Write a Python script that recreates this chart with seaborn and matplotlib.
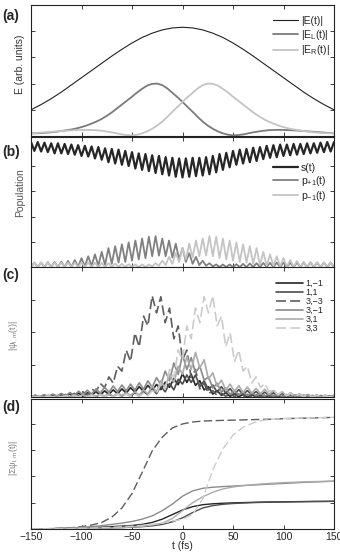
import numpy as np
import matplotlib
matplotlib.use("Agg")
import matplotlib.pyplot as plt
import seaborn as sns

# ---------------- data ----------------
t_coarse = np.arange(-150, 151, 10)          # panels (a) and (d)
t_fine = np.arange(-150, 151, 5)             # E_L / E_R in panel (a)
t_b = np.linspace(-150, 150, 91)             # panel (b), half-period samples
t_c = np.linspace(-150, 150, 71)             # panel (c), half-period samples

E_tot = [0.20, 0.24, 0.285, 0.335, 0.39, 0.445, 0.50, 0.555, 0.61, 0.662, 0.71,
         0.752, 0.785, 0.81, 0.825, 0.83, 0.825, 0.81, 0.785, 0.752, 0.71,
         0.662, 0.61, 0.555, 0.50, 0.445, 0.39, 0.335, 0.285, 0.24, 0.20]
E_L = [0.02, 0.021, 0.022, 0.025, 0.028, 0.033, 0.038, 0.044, 0.05, 0.058,
       0.068, 0.08, 0.095, 0.111, 0.13, 0.154, 0.18, 0.21, 0.24, 0.27,
       0.30, 0.332, 0.36, 0.385, 0.398, 0.40, 0.388, 0.363, 0.33, 0.296,
       0.26, 0.222, 0.185, 0.146, 0.11, 0.08, 0.055, 0.035, 0.02, 0.01,
       0.005, 0.007, 0.012, 0.02, 0.028, 0.034, 0.04, 0.044, 0.046, 0.047,
       0.046, 0.045, 0.043, 0.041, 0.038, 0.035, 0.032, 0.029, 0.026, 0.023,
       0.02]
E_R = [0.02, 0.023, 0.026, 0.029, 0.032, 0.035, 0.038, 0.041, 0.043, 0.045,
       0.046, 0.047, 0.046, 0.044, 0.04, 0.034, 0.028, 0.02, 0.012, 0.007,
       0.005, 0.01, 0.02, 0.035, 0.055, 0.08, 0.11, 0.146, 0.185, 0.222,
       0.26, 0.296, 0.33, 0.363, 0.388, 0.40, 0.398, 0.385, 0.36, 0.332,
       0.30, 0.27, 0.24, 0.21, 0.18, 0.154, 0.13, 0.111, 0.095, 0.08,
       0.068, 0.058, 0.05, 0.044, 0.038, 0.033, 0.028, 0.025, 0.022, 0.021,
       0.02]

s_pop = [0.99, 0.92, 0.99, 0.915, 0.985, 0.91, 0.98, 0.90, 0.98, 0.90,
         0.975, 0.895, 0.97, 0.89, 0.965, 0.88, 0.96, 0.875, 0.955, 0.86,
         0.95, 0.85, 0.94, 0.83, 0.935, 0.82, 0.93, 0.81, 0.92, 0.80,
         0.91, 0.78, 0.90, 0.77, 0.895, 0.76, 0.885, 0.745, 0.88, 0.735,
         0.87, 0.725, 0.865, 0.715, 0.86, 0.71, 0.86, 0.715, 0.865, 0.72,
         0.865, 0.725, 0.87, 0.735, 0.88, 0.75, 0.895, 0.77, 0.905, 0.79,
         0.92, 0.81, 0.93, 0.82, 0.935, 0.83, 0.945, 0.84, 0.95, 0.855,
         0.96, 0.865, 0.965, 0.87, 0.97, 0.88, 0.97, 0.885, 0.975, 0.89,
         0.975, 0.895, 0.98, 0.90, 0.98, 0.905, 0.985, 0.91, 0.99, 0.915,
         0.99]
p_plus = [0.0, 0.035, 0.0, 0.035, 0.0, 0.038, 0.0, 0.04, 0.0, 0.042,
          0.0, 0.048, 0.002, 0.055, 0.003, 0.07, 0.005, 0.085, 0.008, 0.10,
          0.01, 0.12, 0.015, 0.15, 0.025, 0.165, 0.035, 0.18, 0.04, 0.195,
          0.05, 0.21, 0.06, 0.225, 0.07, 0.24, 0.085, 0.245, 0.09, 0.225,
          0.085, 0.21, 0.075, 0.185, 0.06, 0.15, 0.04, 0.11, 0.025, 0.08,
          0.015, 0.05, 0.01, 0.03, 0.005, 0.02, 0.0, 0.02, 0.0, 0.02,
          0.0, 0.022, 0.0, 0.025, 0.0, 0.028, 0.0, 0.03, 0.0, 0.032,
          0.0, 0.033, 0.0, 0.035, 0.0, 0.035, 0.0, 0.035, 0.0, 0.035,
          0.0, 0.035, 0.0, 0.035, 0.0, 0.035, 0.0, 0.035, 0.0, 0.035,
          0.0]
p_minus = [0.0, 0.035, 0.0, 0.035, 0.0, 0.035, 0.0, 0.035, 0.0, 0.035,
           0.0, 0.035, 0.0, 0.035, 0.0, 0.035, 0.0, 0.035, 0.0, 0.033,
           0.0, 0.032, 0.0, 0.03, 0.0, 0.028, 0.0, 0.025, 0.0, 0.022,
           0.0, 0.02, 0.0, 0.02, 0.0, 0.02, 0.005, 0.03, 0.01, 0.05,
           0.015, 0.08, 0.025, 0.11, 0.04, 0.15, 0.06, 0.185, 0.075, 0.21,
           0.085, 0.225, 0.09, 0.245, 0.085, 0.24, 0.07, 0.225, 0.06, 0.21,
           0.05, 0.195, 0.04, 0.18, 0.035, 0.165, 0.025, 0.15, 0.015, 0.12,
           0.01, 0.10, 0.008, 0.085, 0.005, 0.07, 0.003, 0.055, 0.002, 0.048,
           0.0, 0.042, 0.0, 0.04, 0.0, 0.038, 0.0, 0.035, 0.0, 0.035,
           0.0]

psi_1m1 = [0.0, 0.05, 0.0, 0.06, 0.01, 0.07, 0.01, 0.08, 0.02, 0.1,
           0.02, 0.12, 0.03, 0.13, 0.05, 0.16, 0.06, 0.19, 0.08, 0.22,
           0.1, 0.25, 0.12, 0.29, 0.15, 0.32, 0.17, 0.36, 0.2, 0.39,
           0.23, 0.46, 0.3, 0.57, 0.38, 0.72, 0.45, 0.71, 0.36, 0.5,
           0.22, 0.32, 0.09, 0.2, 0.05, 0.13, 0.02, 0.1, 0.01, 0.08,
           0.0, 0.07, 0.0, 0.06, 0.0, 0.05, 0.0, 0.05, 0.0, 0.05,
           0.0, 0.04, 0.0, 0.04, 0.0, 0.04, 0.0, 0.03, 0.0, 0.03,
           0.0]
psi_11 = [0.03, 0.0, 0.03, 0.0, 0.04, 0.0, 0.04, 0.0, 0.05, 0.0,
          0.05, 0.0, 0.06, 0.01, 0.07, 0.01, 0.08, 0.02, 0.09, 0.02,
          0.1, 0.03, 0.11, 0.03, 0.13, 0.04, 0.17, 0.07, 0.25, 0.1,
          0.33, 0.16, 0.42, 0.22, 0.55, 0.4, 0.68, 0.45, 0.68, 0.32,
          0.5, 0.22, 0.37, 0.15, 0.32, 0.12, 0.26, 0.08, 0.23, 0.07,
          0.2, 0.06, 0.17, 0.05, 0.15, 0.04, 0.13, 0.03, 0.11, 0.02,
          0.09, 0.01, 0.08, 0.01, 0.07, 0.0, 0.06, 0.0, 0.05, 0.0,
          0.05]
psi_3m3 = [0.03, 0.0, 0.04, 0.0, 0.05, 0.0, 0.06, 0.01, 0.08, 0.02,
           0.11, 0.04, 0.16, 0.07, 0.25, 0.16, 0.42, 0.29, 0.62, 0.43,
           0.95, 0.8, 1.45, 1.1, 1.98, 1.55, 2.5, 2.2, 3.13, 2.6,
           3.1, 2.3, 2.75, 1.8, 2.2, 1.15, 1.45, 0.6, 0.85, 0.25,
           0.42, 0.1, 0.2, 0.04, 0.12, 0.02, 0.1, 0.01, 0.09, 0.0,
           0.08, 0.0, 0.07, 0.0, 0.06, 0.0, 0.05, 0.0, 0.05, 0.0,
           0.04, 0.0, 0.04, 0.0, 0.035, 0.0, 0.03, 0.0, 0.03, 0.0,
           0.03]
psi_3m1 = [0.0, 0.05, 0.01, 0.07, 0.02, 0.09, 0.03, 0.11, 0.03, 0.14,
           0.04, 0.18, 0.06, 0.21, 0.09, 0.25, 0.12, 0.3, 0.15, 0.34,
           0.17, 0.37, 0.19, 0.4, 0.21, 0.44, 0.24, 0.5, 0.3, 0.6,
           0.38, 0.8, 0.5, 1.05, 0.7, 1.3, 0.85, 1.22, 0.75, 0.95,
           0.52, 0.62, 0.28, 0.42, 0.15, 0.28, 0.08, 0.2, 0.06, 0.16,
           0.04, 0.13, 0.03, 0.11, 0.02, 0.1, 0.02, 0.09, 0.01, 0.08,
           0.01, 0.07, 0.0, 0.06, 0.0, 0.05, 0.0, 0.05, 0.0, 0.04,
           0.0]
psi_31 = [0.03, 0.0, 0.03, 0.0, 0.04, 0.0, 0.04, 0.0, 0.05, 0.01,
          0.06, 0.01, 0.07, 0.02, 0.08, 0.02, 0.09, 0.03, 0.1, 0.03,
          0.12, 0.04, 0.13, 0.05, 0.16, 0.06, 0.22, 0.09, 0.35, 0.15,
          0.5, 0.28, 0.7, 0.45, 0.95, 0.7, 1.25, 0.85, 1.38, 0.9,
          1.15, 0.55, 0.75, 0.33, 0.52, 0.22, 0.4, 0.17, 0.35, 0.14,
          0.31, 0.12, 0.27, 0.1, 0.24, 0.08, 0.2, 0.06, 0.16, 0.04,
          0.13, 0.03, 0.1, 0.02, 0.08, 0.01, 0.06, 0.0, 0.05, 0.0,
          0.05]
psi_33 = [0.03, 0.0, 0.03, 0.0, 0.03, 0.0, 0.035, 0.0, 0.04, 0.0,
          0.04, 0.0, 0.05, 0.0, 0.05, 0.0, 0.06, 0.0, 0.07, 0.0,
          0.08, 0.0, 0.09, 0.01, 0.1, 0.02, 0.12, 0.04, 0.2, 0.1,
          0.42, 0.25, 0.85, 0.6, 1.45, 1.15, 2.2, 1.8, 2.75, 2.3,
          3.1, 2.6, 3.13, 2.2, 2.5, 1.55, 1.98, 1.1, 1.45, 0.8,
          0.95, 0.43, 0.62, 0.29, 0.42, 0.16, 0.25, 0.07, 0.16, 0.04,
          0.11, 0.02, 0.08, 0.01, 0.06, 0.0, 0.05, 0.0, 0.04, 0.0,
          0.03]

sum_1m1 = [0, 0, 0.002, 0.004, 0.006, 0.008, 0.011, 0.014, 0.018, 0.022, 0.027,
           0.035, 0.05, 0.075, 0.11, 0.145, 0.17, 0.185, 0.192, 0.196, 0.199,
           0.201, 0.203, 0.205, 0.206, 0.207, 0.208, 0.209, 0.21, 0.21, 0.211]
sum_11 = [0, 0, 0.001, 0.002, 0.003, 0.004, 0.005, 0.007, 0.009, 0.011, 0.014,
          0.018, 0.024, 0.035, 0.055, 0.085, 0.125, 0.16, 0.178, 0.188, 0.194,
          0.198, 0.201, 0.203, 0.205, 0.206, 0.207, 0.208, 0.209, 0.21, 0.211]
sum_3m3 = [0.0, 0.0, 0.003, 0.006, 0.01, 0.018, 0.03, 0.05, 0.09, 0.16, 0.27,
           0.43, 0.595, 0.70, 0.77, 0.80, 0.815, 0.822, 0.825, 0.827, 0.829,
           0.831, 0.833, 0.835, 0.837, 0.84, 0.842, 0.844, 0.846, 0.848, 0.85]
sum_3m1 = [0, 0.002, 0.003, 0.005, 0.008, 0.012, 0.018, 0.025, 0.035, 0.045, 0.057,
           0.075, 0.1, 0.14, 0.19, 0.25, 0.29, 0.31, 0.318, 0.323, 0.327,
           0.331, 0.335, 0.339, 0.343, 0.347, 0.351, 0.355, 0.358, 0.361, 0.364]
sum_31 = [0, 0.001, 0.002, 0.003, 0.004, 0.005, 0.006, 0.007, 0.008, 0.01, 0.015,
          0.02, 0.03, 0.045, 0.08, 0.14, 0.2, 0.245, 0.28, 0.305, 0.32,
          0.33, 0.338, 0.344, 0.349, 0.353, 0.356, 0.359, 0.361, 0.363, 0.365]
sum_33 = [0.0, 0.0, 0.0, 0.002, 0.003, 0.005, 0.007, 0.01, 0.013, 0.017, 0.022,
          0.028, 0.035, 0.045, 0.06, 0.075, 0.11, 0.23, 0.45, 0.61, 0.715,
          0.775, 0.808, 0.828, 0.838, 0.841, 0.843, 0.845, 0.847, 0.849, 0.851]

x_ticks = [-150, -100, -50, 0, 50, 100, 150]
lm_labels = ["1,\u22121", "1,1", "3,\u22123", "3,\u22121", "3,1", "3,3"]

# ---------------- style ----------------
sns.set_style("white")
plt.rcParams['font.family'] = ['Liberation Sans', 'DejaVu Sans']
plt.rcParams['mathtext.default'] = 'regular'

fig = plt.figure(figsize=(3.4, 5.6), dpi=100)
L, W = 31 / 340, 303 / 340
rects = [(5, 136), (137, 267), (267, 397), (399, 529)]
axes = [fig.add_axes([L, 1 - b / 560, W, (b - t) / 560]) for t, b in rects]

DASH = (0, (6, 2.5))
col = {"k": "#262626", "d": "#4d4d4d", "dd": "#5e5e5e", "m": "#8a8a8a",
       "l": "#ababab", "ll": "#cccccc"}


def line(ax, x, y, c, lw, ls="-"):
    sns.lineplot(x=x, y=y, ax=ax, color=c, linewidth=lw, linestyle=ls,
                 errorbar=None, legend=False, sort=False)
    return ax.lines[-1]


# (a)
ax = axes[0]
h = [line(ax, t_coarse, E_tot, "#222222", 0.8),
     line(ax, t_fine, E_L, "#7a7a7a", 1.3),
     line(ax, t_fine, E_R, "#c4c4c4", 1.3)]
ax.set_ylim(0, 1.0)
ax.set_yticks([0.2, 0.4, 0.6, 0.8])
ax.legend(h, ["|E(t)|", "|E$_L$(t)|", "|E$_R$(t)|"], loc="upper right",
          bbox_to_anchor=(0.985, 0.915), frameon=False, fontsize=7.5,
          handlelength=2.4, handletextpad=0.3, labelspacing=0.15,
          borderaxespad=0, borderpad=0)
ax.set_ylabel("E (arb. units)", fontsize=7.5, color="#333333")
ax.yaxis.set_label_coords(-0.02, 0.55)

# (b)
ax = axes[1]
h = [line(ax, t_b, s_pop, "#262626", 1.6),
     line(ax, t_b, p_plus, "#808080", 1.3),
     line(ax, t_b, p_minus, "#c4c4c4", 1.3)]
ax.set_ylim(0, 1.03)
ax.set_yticks([0.2, 0.4, 0.6, 0.8])
ax.legend(h, ["s(t)", "p$_{+1}$(t)", "p$_{-1}$(t)"], loc="upper right",
          bbox_to_anchor=(0.975, 0.80), frameon=False, fontsize=7.5,
          handlelength=2.4, handletextpad=0.3, labelspacing=0.1,
          borderaxespad=0, borderpad=0)
ax.set_ylabel("Population", fontsize=7.5, color="#555555")
ax.yaxis.set_label_coords(-0.02, 0.57)

# (c)
ax = axes[2]
h = [line(ax, t_c, psi_1m1, col["k"], 1.2),
     line(ax, t_c, psi_11, col["d"], 1.2),
     line(ax, t_c, psi_3m3, col["dd"], 1.2, DASH),
     line(ax, t_c, psi_3m1, col["m"], 1.2),
     line(ax, t_c, psi_31, col["l"], 1.2),
     line(ax, t_c, psi_33, col["ll"], 1.2, DASH)]
ax.set_ylim(0, 4.02)
ax.set_yticks([1, 2, 3])
ax.legend(h, lm_labels, loc="upper right", bbox_to_anchor=(0.965, 0.91),
          frameon=False, fontsize=6.5, handlelength=3.0, handletextpad=0.3,
          labelspacing=0.0, borderaxespad=0, borderpad=0)
ax.set_ylabel("|\u03c8$_{l,m}$(t)|", fontsize=6.5, color="#808080")
ax.yaxis.set_label_coords(-0.035, 0.47)

# (d)
ax = axes[3]
line(ax, t_coarse, sum_1m1, col["k"], 1.0)
line(ax, t_coarse, sum_11, col["d"], 1.0)
line(ax, t_coarse, sum_3m3, col["dd"], 1.0, DASH)
line(ax, t_coarse, sum_3m1, col["m"], 1.0)
line(ax, t_coarse, sum_31, col["l"], 1.0)
line(ax, t_coarse, sum_33, col["ll"], 1.0, DASH)
ax.set_ylim(0, 0.99)
ax.set_yticks([0.2, 0.4, 0.6, 0.8])
ax.set_ylabel("|\u03a3\u03c8$_{l,m}$(t)|", fontsize=6.5, color="#808080")
ax.yaxis.set_label_coords(-0.035, 0.55)
ax.set_xlabel("t (fs)", fontsize=7.5, labelpad=-1)

for i, ax in enumerate(axes):
    ax.set_xlim(-150, 150)
    ax.set_xticks(x_ticks)
    ax.tick_params(direction="in", top=True, right=True, bottom=True, left=True,
                   length=3, width=0.6, color="#222222", labelsize=7.5,
                   labelleft=False, labelbottom=(i == 3), pad=2.5)
    for sp in ax.spines.values():
        sp.set_color("#222222")
        sp.set_linewidth(0.8)

for lab, yc in zip(["(a)", "(b)", "(c)", "(d)"], [16, 152, 275, 407]):
    fig.text(2 / 340, 1 - yc / 560, lab, fontsize=10, fontweight="bold",
             va="center", ha="left")

fig.savefig("out.png", dpi=100)
